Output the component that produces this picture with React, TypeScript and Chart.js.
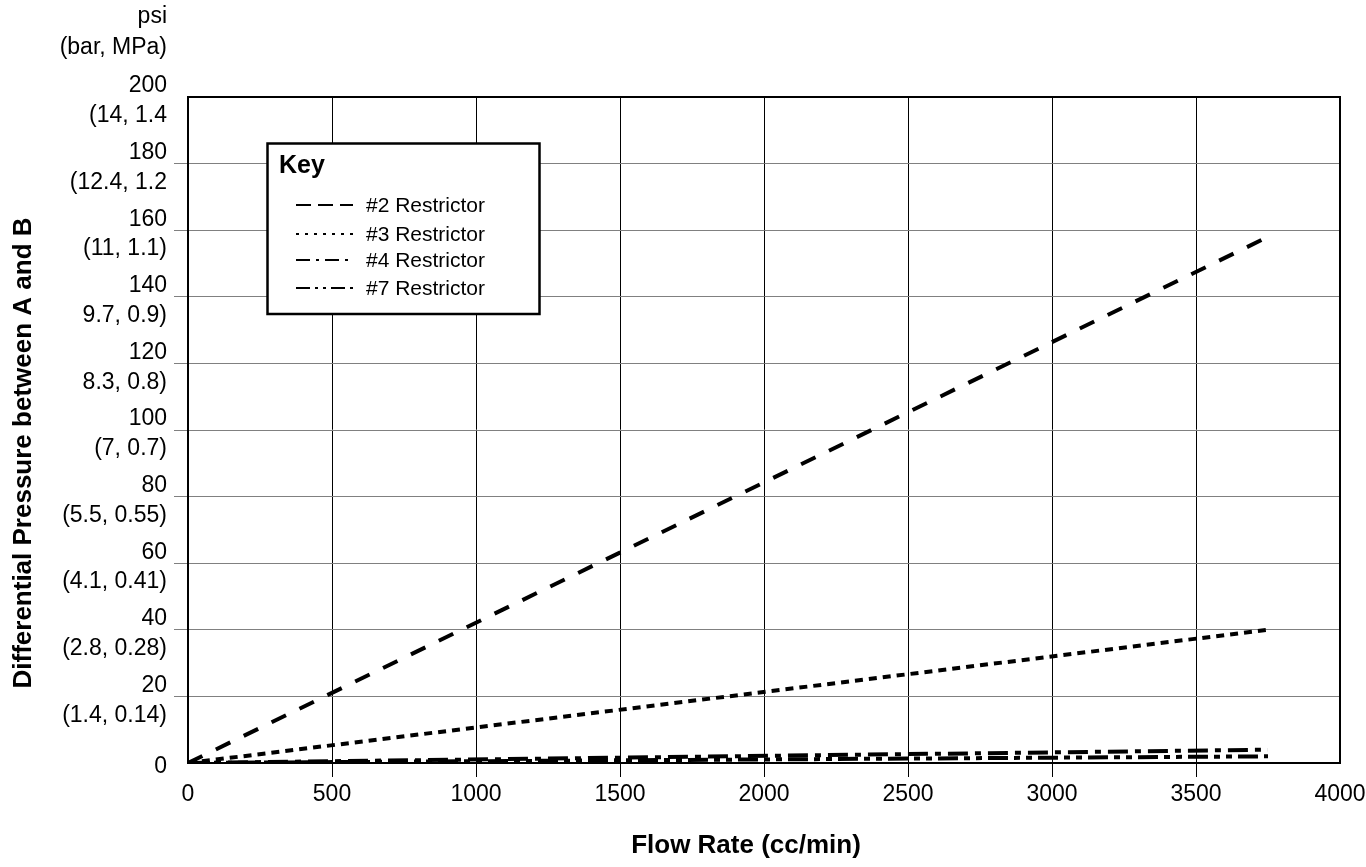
import React, { useEffect, useRef } from 'react';
import { Chart, registerables } from 'chart.js';

Chart.register(...registerables);

const FONT = "'Liberation Sans', Arial, Helvetica, sans-serif";

// ---- data ----
const flowRate = [0, 3750];
const restrictor2 = [0, 158];
const restrictor3 = [0, 40];
const restrictor4 = [0, 4];
const restrictor7 = [0, 2];
const seriesNames = ['#2 Restrictor', '#3 Restrictor', '#4 Restrictor', '#7 Restrictor'];

const xTickValues = [0, 500, 1000, 1500, 2000, 2500, 3000, 3500, 4000];
const yTickPsi = [0, 20, 40, 60, 80, 100, 120, 140, 160, 180, 200];
const yTickMetric = ['', '(1.4, 0.14)', '(2.8, 0.28)', '(4.1, 0.41)', '(5.5, 0.55)', '(7, 0.7)', '8.3, 0.8)', '9.7, 0.9)', '(11, 1.1)', '(12.4, 1.2', '(14, 1.4'];

const xTitle = 'Flow Rate (cc/min)';
const yTitle = 'Differential Pressure between A and B';
const yUnitLines = ['psi', '(bar, MPa)'];
const legendTitle = 'Key';

// ---- styles ----
const lineDashes = [[16, 15], [8, 6], [20, 7, 6, 7], [20, 6, 6, 6, 6, 6]];
const legendDashes = [[15, 7], [3, 6], [14, 6, 3, 6], [14, 5, 3, 5, 3, 5]];

export default function App() {
  const ref = useRef<HTMLCanvasElement>(null);

  useEffect(() => {
    document.body.style.margin = '0';
    const canvas = ref.current!;
    const seriesValues = [restrictor2, restrictor3, restrictor4, restrictor7];

    const overlay = {
      id: 'overlay',
      afterDraw(chart: any) {
        const ctx = chart.ctx as CanvasRenderingContext2D;
        const ca = chart.chartArea;
        ctx.save();
        // plot frame
        ctx.strokeStyle = '#000';
        ctx.lineWidth = 2;
        ctx.setLineDash([]);
        ctx.strokeRect(ca.left, ca.top, ca.right - ca.left, ca.bottom - ca.top);

        // units above y axis
        ctx.fillStyle = '#000';
        ctx.font = `23px ${FONT}`;
        ctx.textAlign = 'right';
        ctx.textBaseline = 'alphabetic';
        ctx.fillText(yUnitLines[0], 167, 23);
        ctx.fillText(yUnitLines[1], 167, 54);

        // axis titles
        ctx.font = `bold 26px ${FONT}`;
        ctx.textAlign = 'center';
        ctx.fillText(xTitle, 746, 853);
        ctx.save();
        ctx.translate(31, 453);
        ctx.rotate(-Math.PI / 2);
        ctx.fillText(yTitle, 0, 0);
        ctx.restore();

        // legend box
        const bx = 267.5, by = 143.5, bw = 272, bh = 170.5;
        ctx.fillStyle = '#fff';
        ctx.fillRect(bx, by, bw, bh);
        ctx.strokeStyle = '#000';
        ctx.lineWidth = 2.5;
        ctx.strokeRect(bx, by, bw, bh);
        ctx.fillStyle = '#000';
        ctx.font = `bold 25px ${FONT}`;
        ctx.textAlign = 'left';
        ctx.textBaseline = 'alphabetic';
        ctx.fillText(legendTitle, 279, 173);
        const rowY = [205, 234, 260, 288];
        ctx.font = `21px ${FONT}`;
        ctx.textBaseline = 'middle';
        seriesNames.forEach((name, i) => {
          ctx.beginPath();
          ctx.setLineDash(legendDashes[i]);
          ctx.lineWidth = 2;
          ctx.lineCap = 'butt';
          ctx.moveTo(296, rowY[i]);
          ctx.lineTo(353, rowY[i]);
          ctx.stroke();
          ctx.setLineDash([]);
          ctx.fillText(name, 366, rowY[i] + 1);
        });
        ctx.restore();
      },
    };

    const chart = new Chart(canvas, {
      type: 'line',
      data: {
        datasets: seriesNames.map((name, i) => ({
          label: name,
          data: flowRate.map((x, j) => ({ x, y: seriesValues[i][j] })),
          borderColor: '#000',
          borderWidth: 4,
          borderDash: lineDashes[i],
          borderCapStyle: 'butt',
          pointRadius: 0,
          fill: false,
          tension: 0,
        })),
      },
      options: {
        responsive: false,
        animation: false,
        devicePixelRatio: 1,
        layout: { padding: { top: 97, right: 26, left: 0, bottom: 0 } },
        plugins: {
          legend: { display: false },
          tooltip: { enabled: false },
          title: { display: false },
        },
        scales: {
          x: {
            type: 'linear',
            min: 0,
            max: 4000,
            afterBuildTicks: (scale: any) => {
              scale.ticks = xTickValues.map((v) => ({ value: v }));
            },
            afterFit: (scale: any) => {
              scale.height = 104;
              scale.paddingLeft = 0;
              scale.paddingRight = 0;
            },
            ticks: {
              color: '#000',
              font: { family: FONT, size: 23, lineHeight: 1.2 },
              padding: 4,
              maxRotation: 0,
              autoSkip: false,
              callback: (v: any) => String(v),
            },
            grid: {
              color: (c: any) => (c.tick && (c.tick.value === 0 || c.tick.value === 4000) ? 'rgba(0,0,0,0)' : '#000'),
              lineWidth: 1,
              tickLength: 14,
            },
            border: { display: true, color: '#000', width: 2 },
          },
          y: {
            type: 'linear',
            min: 0,
            max: 200,
            afterBuildTicks: (scale: any) => {
              scale.ticks = yTickPsi.map((v) => ({ value: v }));
            },
            afterFit: (scale: any) => {
              scale.width = 188;
              scale.paddingTop = 0;
              scale.paddingBottom = 0;
            },
            ticks: {
              color: '#000',
              font: { family: FONT, size: 23, lineHeight: 1.3 },
              padding: 7,
              labelOffset: 4,
              autoSkip: false,
              callback: (v: any) => {
                const i = yTickPsi.indexOf(Number(v));
                if (i < 0) return '';
                return yTickMetric[i] ? [String(yTickPsi[i]), yTickMetric[i]] : String(yTickPsi[i]);
              },
            },
            grid: {
              color: (c: any) => (c.tick && (c.tick.value === 0 || c.tick.value === 200) ? 'rgba(0,0,0,0)' : '#808080'),
              lineWidth: 1,
              tickLength: 14,
            },
            border: { display: true, color: '#000', width: 2 },
          },
        },
      },
      plugins: [overlay],
    } as any);

    return () => chart.destroy();
  }, []);

  return (
    <div style={{ width: 1366, height: 867 }}>
      <canvas ref={ref} width={1366} height={867} style={{ display: 'block', width: 1366, height: 867 }} />
    </div>
  );
}
